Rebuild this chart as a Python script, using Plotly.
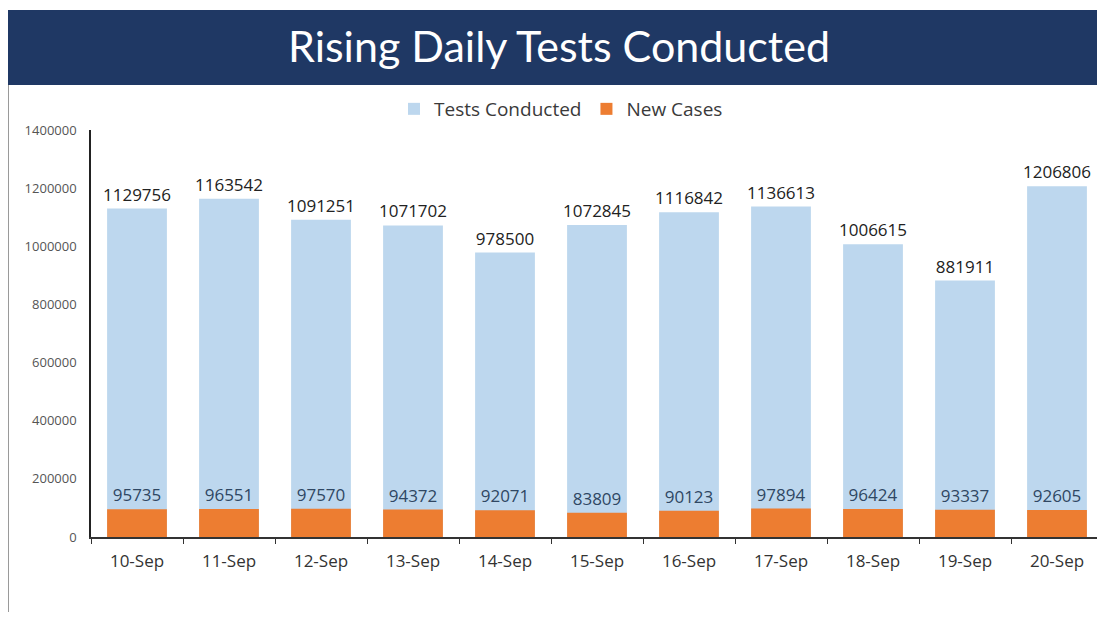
import plotly.graph_objects as go

dates = ["10-Sep", "11-Sep", "12-Sep", "13-Sep", "14-Sep", "15-Sep", "16-Sep", "17-Sep", "18-Sep", "19-Sep", "20-Sep"]
tests_conducted = [1129756, 1163542, 1091251, 1071702, 978500, 1072845, 1116842, 1136613, 1006615, 881911, 1206806]
new_cases = [95735, 96551, 97570, 94372, 92071, 83809, 90123, 97894, 96424, 93337, 92605]
y_ticks = [0, 200000, 400000, 600000, 800000, 1000000, 1200000, 1400000]

W, H = 1105, 619
OFF = 8  # page body margin offset
# desired screen positions of plot area
L_SCR, R_SCR, T_SCR, B_SCR = 91, 1103, 130, 537
ml = L_SCR - OFF
mt = T_SCR - OFF
mr = W - (R_SCR - OFF)
mb = H - (B_SCR - OFF)
pw, ph = W - ml - mr, H - mt - mb

def px_x(x):
    return (x - OFF - ml) / pw

def px_y(y):
    return (B_SCR - y) / ph

fig = go.Figure()
fig.add_trace(go.Bar(
    x=dates, y=tests_conducted, name="Tests Conducted",
    marker=dict(color="#bdd7ee", line=dict(width=0)),
    text=[str(v) for v in tests_conducted], textposition="outside",
    textfont=dict(family="Open Sans", size=17, color="#222222"),
    constraintext="none", cliponaxis=False,
))
fig.add_trace(go.Bar(
    x=dates, y=new_cases, name="New Cases",
    marker=dict(color="#ed7d31", line=dict(width=0)),
    text=[str(v) for v in new_cases], textposition="outside",
    textfont=dict(family="Open Sans", size=17, color="#2f4763"),
    constraintext="none", cliponaxis=False,
))

shapes = [
    dict(type="rect", xref="paper", yref="paper",
         x0=px_x(5), x1=px_x(1115), y0=px_y(85), y1=px_y(10),
         fillcolor="#1f3864", line=dict(width=0), layer="below"),
    dict(type="line", xref="paper", yref="paper",
         x0=px_x(8), x1=px_x(8), y0=px_y(85), y1=px_y(612),
         line=dict(color="#9a9a9a", width=2)),
]

fig.update_layout(
    width=W, height=H,
    margin=dict(l=ml, r=mr, t=mt, b=mb),
    paper_bgcolor="white", plot_bgcolor="white",
    barmode="overlay", bargap=0.35,
    shapes=shapes,
    title=dict(text="Rising Daily Tests Conducted", x=(559 - OFF) / W, xanchor="center",
               y=1 - (47 - OFF) / H, yanchor="middle",
               font=dict(family="Lato", size=43, color="white")),
    legend=dict(orientation="h", x=px_x(561), xanchor="center", y=px_y(109), yanchor="middle",
                font=dict(family="Open Sans", size=19, color="#3a3a3a"),
                traceorder="normal", itemwidth=30),
    showlegend=True,
    font=dict(family="Open Sans"),
)
fig.update_xaxes(
    type="category", showline=True, linecolor="#333333", linewidth=2,
    ticks="outside", tickson="boundaries", ticklen=5, tickcolor="#333333",
    ticklabelstandoff=8,
    tickfont=dict(family="Open Sans", size=17, color="#333333"),
    showgrid=False,
)
fig.update_yaxes(
    range=[0, 1400000], tickvals=y_ticks, ticktext=[str(v) for v in y_ticks],
    showline=True, linecolor="#222222", linewidth=1.5, showgrid=False,
    ticks="outside", ticklen=10, tickcolor="rgba(0,0,0,0)",
    tickfont=dict(family="Open Sans", size=13, color="#555555"),
    zeroline=False,
)

fig.write_html("out.html")
